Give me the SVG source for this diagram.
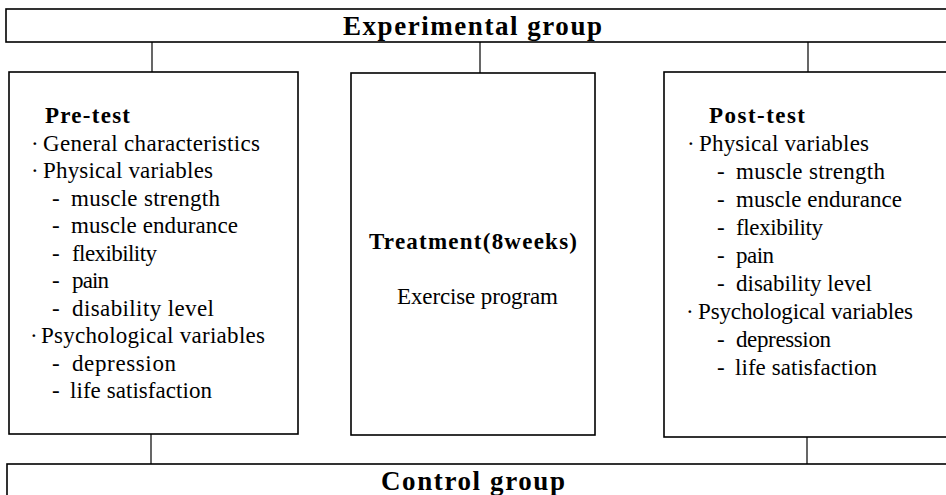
<svg xmlns="http://www.w3.org/2000/svg" width="946" height="495" viewBox="0 0 946 495">
<style>
.box{fill:#fff;stroke:#000;stroke-width:1.6}
.con line{stroke:#000;stroke-width:1.2}
text{font-family:"Liberation Serif","Times New Roman",serif;font-size:23px;fill:#000}
.b{font-weight:bold}
.h{font-weight:bold;font-size:27px}
</style>
<rect width="946" height="495" fill="#fff"/>
<g class="con" id="connectors">
<line x1="152" y1="42" x2="152" y2="72"/>
<line x1="480" y1="42" x2="480" y2="73"/>
<line x1="808" y1="42" x2="808" y2="72"/>
<line x1="151" y1="434" x2="151" y2="464"/>
<line x1="807" y1="437" x2="807" y2="464"/>
</g>
<g id="experimental">
<rect class="box" x="6" y="9" width="960" height="33"/>
<text class="h" x="343" y="35" textLength="259" lengthAdjust="spacing">Experimental group</text>
</g>
<g id="pretest">
<rect class="box" x="9" y="72" width="289" height="362"/>
<text class="b" x="45" y="123" textLength="85" lengthAdjust="spacing">Pre-test</text>
<text y="151"><tspan x="31">·</tspan> <tspan x="43" textLength="217" lengthAdjust="spacing">General characteristics</tspan></text>
<text y="178"><tspan x="31">·</tspan> <tspan x="43" textLength="170" lengthAdjust="spacing">Physical variables</tspan></text>
<text y="206"><tspan x="52">-</tspan> <tspan x="71" textLength="149" lengthAdjust="spacing">muscle strength</tspan></text>
<text y="233"><tspan x="52">-</tspan> <tspan x="71" textLength="167" lengthAdjust="spacing">muscle endurance</tspan></text>
<text y="261"><tspan x="52">-</tspan> <tspan x="72" textLength="85" lengthAdjust="spacing">flexibility</tspan></text>
<text y="288"><tspan x="52">-</tspan> <tspan x="72" textLength="37" lengthAdjust="spacing">pain</tspan></text>
<text y="316"><tspan x="52">-</tspan> <tspan x="72" textLength="142" lengthAdjust="spacing">disability level</tspan></text>
<text y="343"><tspan x="30">·</tspan> <tspan x="41" textLength="224" lengthAdjust="spacing">Psychological variables</tspan></text>
<text y="371"><tspan x="52">-</tspan> <tspan x="72" textLength="104" lengthAdjust="spacing">depression</tspan></text>
<text y="398"><tspan x="52">-</tspan> <tspan x="70" textLength="142" lengthAdjust="spacing">life satisfaction</tspan></text>
</g>
<g id="treatment">
<rect class="box" x="351" y="73" width="244" height="362"/>
<text class="b" x="369" y="249" textLength="208" lengthAdjust="spacing">Treatment(8weeks)</text>
<text x="397" y="304" textLength="161" lengthAdjust="spacing">Exercise program</text>
</g>
<g id="posttest">
<rect class="box" x="664" y="72" width="300" height="365"/>
<text class="b" x="709" y="123" textLength="96" lengthAdjust="spacing">Post-test</text>
<text y="151"><tspan x="687">·</tspan> <tspan x="699" textLength="170" lengthAdjust="spacing">Physical variables</tspan></text>
<text y="179"><tspan x="717">-</tspan> <tspan x="736" textLength="149" lengthAdjust="spacing">muscle strength</tspan></text>
<text y="207"><tspan x="717">-</tspan> <tspan x="736" textLength="166" lengthAdjust="spacing">muscle endurance</tspan></text>
<text y="235"><tspan x="717">-</tspan> <tspan x="736" textLength="87" lengthAdjust="spacing">flexibility</tspan></text>
<text y="263"><tspan x="717">-</tspan> <tspan x="736" textLength="38" lengthAdjust="spacing">pain</tspan></text>
<text y="291"><tspan x="717">-</tspan> <tspan x="736" textLength="136" lengthAdjust="spacing">disability level</tspan></text>
<text y="319"><tspan x="686">·</tspan> <tspan x="698" textLength="215" lengthAdjust="spacing">Psychological variables</tspan></text>
<text y="347"><tspan x="717">-</tspan> <tspan x="736" textLength="95" lengthAdjust="spacing">depression</tspan></text>
<text y="375"><tspan x="717">-</tspan> <tspan x="735" textLength="142" lengthAdjust="spacing">life satisfaction</tspan></text>
</g>
<g id="control">
<rect class="box" x="7" y="464" width="960" height="60"/>
<text class="h" x="381" y="490" textLength="184" lengthAdjust="spacing">Control group</text>
</g>
</svg>
